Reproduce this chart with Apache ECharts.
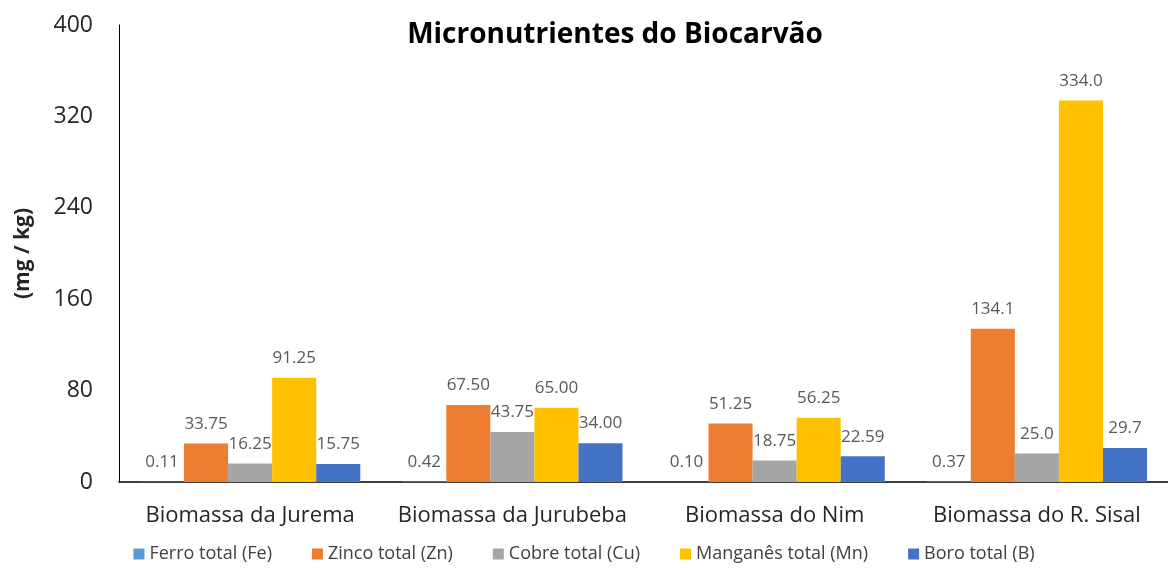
<!DOCTYPE html>
<html>
<head>
<meta charset="utf-8">
<script src="https://cdn.jsdelivr.net/npm/echarts@6/dist/echarts.min.js"></script>
<style>
  html, body { margin: 0; padding: 0; background: #fff; }
  #main { width: 1168px; height: 568px; }
</style>
</head>
<body>
<div id="main"></div>
<script>
var categories = ['Biomassa da Jurema', 'Biomassa da Jurubeba', 'Biomassa do Nim', 'Biomassa do R. Sisal'];
var seriesNames = ['Ferro total (Fe)', 'Zinco total (Zn)', 'Cobre total (Cu)', 'Manganês total (Mn)', 'Boro total (B)'];
var ferro = [0.11, 0.42, 0.10, 0.37];
var zinco = [33.75, 67.50, 51.25, 134.1];
var cobre = [16.25, 43.75, 18.75, 25.0];
var manganes = [91.25, 65.00, 56.25, 334.0];
var boro = [15.75, 34.00, 22.59, 29.7];
var yTicks = [0, 80, 160, 240, 320, 400];
// decimals shown on the labels, per category (Fe always shows two)
var labelDecimals = [2, 2, 2, 1];

var colors = ['#5B9BD5', '#ED7D31', '#A5A5A5', '#FFC000', '#4472C4'];
var allData = [ferro, zinco, cobre, manganes, boro];

var chartDom = document.getElementById('main');
var myChart = echarts.init(chartDom);
var font = '"Open Sans", sans-serif';

var series = allData.map(function (d, i) {
  return {
    name: seriesNames[i],
    type: 'bar',
    data: d,
    barGap: 0,
    barCategoryGap: '16%',
    itemStyle: { color: colors[i] },
    label: {
      show: true,
      position: 'top',
      distance: 11,
      color: '#595959',
      fontSize: 17,
      fontFamily: font,
      formatter: function (p) {
        var dec = i === 0 ? 2 : labelDecimals[p.dataIndex];
        return p.value.toFixed(dec);
      }
    }
  };
});

var option = {
  animation: false,
  title: {
    text: 'Micronutrientes do Biocarvão',
    left: 610,
    textAlign: 'center',
    top: 16,
    textStyle: { fontSize: 28, fontWeight: 'bold', color: '#000', fontFamily: font }
  },
  legend: {
    bottom: 0,
    left: 'center',
    itemWidth: 11,
    itemHeight: 11,
    itemGap: 40,
    icon: 'rect',
    textStyle: { fontSize: 18, color: '#404040', fontFamily: font }
  },
  grid: {
    left: 119,
    right: 0,
    top: 25,
    bottom: 86
  },
  xAxis: {
    type: 'category',
    data: categories,
    axisLine: { lineStyle: { color: '#000', width: 1.5 } },
    axisTick: { show: false },
    axisLabel: { interval: 0, hideOverlap: false, fontSize: 22, color: '#262626', margin: 23, fontFamily: font }
  },
  yAxis: {
    type: 'value',
    min: yTicks[0],
    max: yTicks[yTicks.length - 1],
    interval: 80,
    name: '(mg / kg)',
    nameLocation: 'middle',
    nameGap: 85,
    nameTextStyle: { fontSize: 21, fontWeight: 'bold', color: '#262626', fontFamily: font },
    axisLine: { show: true, lineStyle: { color: '#000', width: 1 } },
    axisTick: { show: false },
    splitLine: { show: false },
    axisLabel: { fontSize: 23, color: '#262626', margin: 26, fontFamily: font }
  },
  series: series
};

option && myChart.setOption(option);
</script>
</body>
</html>
